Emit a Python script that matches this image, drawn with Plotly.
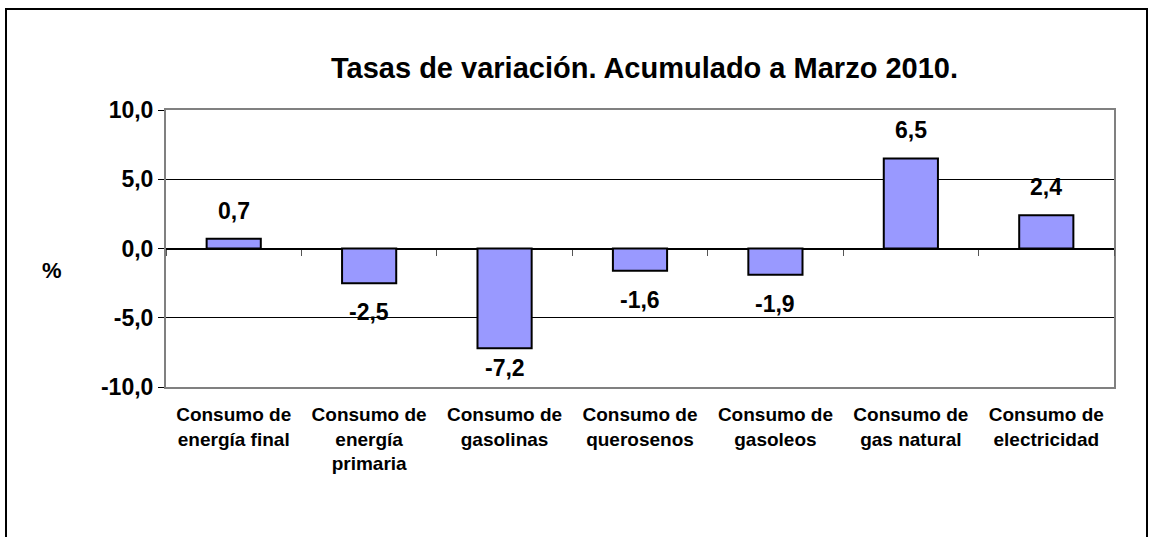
import plotly.graph_objects as go

categories = [
    "Consumo de<br>energía final",
    "Consumo de<br>energía<br>primaria",
    "Consumo de<br>gasolinas",
    "Consumo de<br>querosenos",
    "Consumo de<br>gasoleos",
    "Consumo de<br>gas natural",
    "Consumo de<br>electricidad",
]
values = [0.7, -2.5, -7.2, -1.6, -1.9, 6.5, 2.4]
y_ticks = [-10, -5, 0, 5, 10]
title_text = "Tasas de variación. Acumulado a Marzo 2010."
y_title = "%"

FONT = "Liberation Sans, Arial, sans-serif"
W, H = 1151, 537
L, R, T, B = 166, 37, 110, 150
YMIN, YMAX = -10, 10

def fmt(v):
    return f"{v:.1f}".replace(".", ",")

pw = W - L - R
ph = H - T - B
px_per_unit = ph / (YMAX - YMIN)

fig = go.Figure()
fig.add_trace(go.Bar(
    x=categories, y=values,
    marker=dict(color="#9999FF", line=dict(color="black", width=2)),
    width=0.4,
    hoverinfo="skip",
))
# invisible helper trace to carry the category ticks drawn on the zero line
fig.add_trace(go.Scatter(
    x=categories, y=[0] * len(categories), xaxis="x2", yaxis="y",
    mode="markers", marker=dict(opacity=0), hoverinfo="skip", showlegend=False,
))

for c, v in zip(categories, values):
    if v >= 0:
        shift = 13
    else:
        avail = (v - YMIN) * px_per_unit
        shift = -min(14, max(0, avail - 34))
    fig.add_annotation(
        x=c, y=v, text=f"<b>{fmt(v)}</b>", showarrow=False,
        yanchor="bottom" if v >= 0 else "top",
        yshift=shift,
        font=dict(family=FONT, size=23, color="black"),
    )

def px2x(px):
    return (px - L) / pw
def px2y(py):
    return (H - B - py) / ph

# outer chart border
fig.add_shape(type="rect", xref="paper", yref="paper",
              x0=px2x(6), x1=px2x(1147), y0=px2y(560), y1=px2y(9),
              line=dict(color="black", width=2), fillcolor="rgba(0,0,0,0)", layer="below")

fig.add_annotation(xref="paper", yref="paper", x=px2x(644), y=px2y(68),
                   text=f"<b>{title_text}</b>", showarrow=False,
                   font=dict(family=FONT, size=29, color="black"),
                   xanchor="center", yanchor="middle")
fig.add_annotation(xref="paper", yref="paper", x=px2x(52), y=px2y(270),
                   text=f"<b>{y_title}</b>", showarrow=False,
                   font=dict(family=FONT, size=22, color="black"),
                   xanchor="center", yanchor="middle")

fig.update_layout(
    width=W, height=H,
    margin=dict(l=L, r=R, t=T, b=B, autoexpand=False),
    paper_bgcolor="white", plot_bgcolor="white",
    showlegend=False,
    font=dict(family=FONT, color="black"),
    xaxis2=dict(
        overlaying="x", matches="x", anchor="free",
        position=(0 - YMIN) / (YMAX - YMIN),
        showticklabels=False, showgrid=False, showline=False, zeroline=False,
        tickson="boundaries", ticks="outside", ticklen=6, tickcolor="#555555", tickwidth=1,
    ),
)
fig.update_yaxes(
    range=[YMIN, YMAX], tickvals=y_ticks,
    ticktext=[f"<b>{fmt(t)}</b>" for t in y_ticks],
    tickfont=dict(family=FONT, size=23, color="black"),
    showgrid=True, gridcolor="black", gridwidth=1,
    zeroline=True, zerolinecolor="black", zerolinewidth=1.5,
    showline=True, linecolor="#808080", linewidth=2, mirror=True,
    ticks="outside", ticklen=6, tickcolor="black",
)
fig.update_layout(xaxis=dict(
    tickfont=dict(family=FONT, size=19, color="black"),
    showline=True, linecolor="#808080", linewidth=2, mirror=True,
    showgrid=False, tickprefix="<b>", ticksuffix="</b>",
    ticklabelstandoff=9,
))
fig.write_html("out.html", config={"displayModeBar": False},
               post_script="document.body.style.margin='0';")
